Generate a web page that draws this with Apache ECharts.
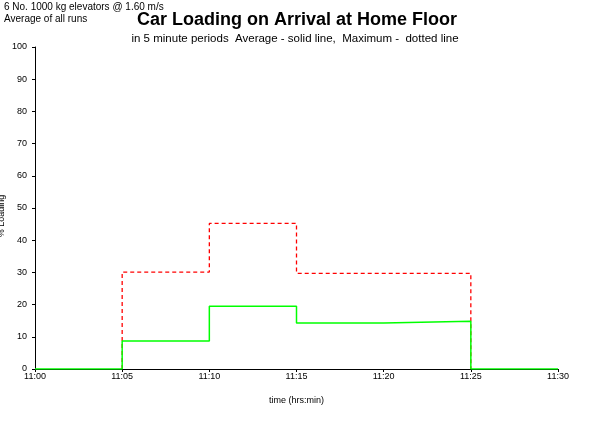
<!DOCTYPE html>
<html><head><meta charset="utf-8">
<script src="https://cdn.jsdelivr.net/npm/echarts@6/dist/echarts.min.js"></script>
<style>html,body{margin:0;padding:0;background:#fff}#c{width:602px;height:441px}</style>
</head><body><div id="c"></div>
<script>
// minutes after 11:00 at which each 5-minute period starts
const periodStarts = [5, 10, 15, 20];
const avgLoading = [8.7, 19.5, 14.3, 14.8];
const maxLoading = [30.1, 45.2, 29.7, 29.7];
const periodLen = 5;
const xMin = 0, xMax = 30;
const yTicks = [0,10,20,30,40,50,60,70,80,90,100];

const avgData = [[xMin, 0]].concat(periodStarts.map((t,i)=>[t, avgLoading[i]]))
  .concat([[periodStarts[periodStarts.length-1]+periodLen, 0],[xMax, 0]]);
const maxData = [[periodStarts[0], 0]].concat(periodStarts.map((t,i)=>[t+periodLen, maxLoading[i]]))
  .concat([[periodStarts[periodStarts.length-1]+periodLen, 0]]);

const F = 'Liberation Sans, Arial, sans-serif';
const chart = echarts.init(document.getElementById('c'));
chart.setOption({
  animation:false,
  backgroundColor:'#fff',
  grid:{left:35,right:44,top:47,bottom:72},
  graphic:[
    {type:'text',left:4,top:2,style:{text:'6 No. 1000 kg elevators @ 1.60 m/s',font:'10px '+F,fill:'#000'}},
    {type:'text',left:4,top:14,style:{text:'Average of all runs',font:'10px '+F,fill:'#000'}},
    {type:'text',x:297,y:11,style:{text:'Car Loading on Arrival at Home Floor',font:'bold 18px '+F,fill:'#000',align:'center'}},
    {type:'text',x:295,y:33,style:{text:'in 5 minute periods  Average - solid line,  Maximum -  dotted line',font:'11.5px '+F,fill:'#000',align:'center'}},
    {type:'text',x:-3,y:216,rotation:Math.PI/2,style:{text:'% Loading',font:'9px '+F,fill:'#000',align:'center',verticalAlign:'top'}}
  ],
  xAxis:{type:'value',min:xMin,max:xMax,interval:5,
    name:'time (hrs:min)',nameLocation:'middle',nameGap:27,
    nameTextStyle:{fontFamily:F,fontSize:9,color:'#000'},
    axisLine:{lineStyle:{color:'#000',width:1}},
    axisTick:{show:true,length:3,lineStyle:{color:'#000'}},
    splitLine:{show:false},
    axisLabel:{fontFamily:F,fontSize:9,color:'#000',margin:3,
      formatter:v=>'11:'+String(v).padStart(2,'0')}},
  yAxis:{type:'value',min:yTicks[0],max:yTicks[yTicks.length-1],interval:10,
    axisLine:{show:true,lineStyle:{color:'#000',width:1}},
    axisTick:{show:true,length:3,lineStyle:{color:'#000'}},
    splitLine:{show:false},
    axisLabel:{fontFamily:F,fontSize:9,color:'#000',margin:8}},
  series:[
    {type:'line',name:'Maximum',step:'start',data:maxData,symbol:'none',
      lineStyle:{color:'#ff0000',width:1.3,type:[4,3]}},
    {type:'line',name:'Average',step:'end',data:avgData,symbol:'none',
      lineStyle:{color:'#00ff00',width:1.5}}
  ]
});
</script></body></html>
